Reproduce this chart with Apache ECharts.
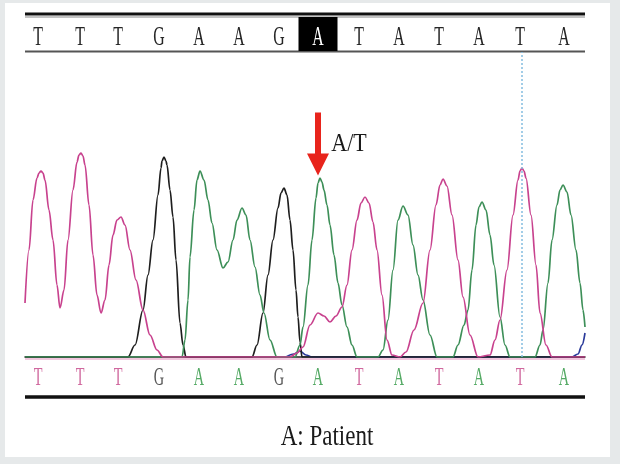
<!DOCTYPE html>
<html>
<head>
<meta charset="utf-8">
<script src="https://cdn.jsdelivr.net/npm/echarts@6/dist/echarts.min.js"></script>
<style>
html,body{margin:0;padding:0;background:#e6e9ea;}
#c{width:620px;height:464px;}
</style>
</head>
<body>
<div id="c"></div>
<script>
// base-call positions (scan units) and called bases
var baseX = [38, 80, 118, 159, 199, 239, 279, 318, 359, 399, 439, 479, 520, 564];
var topCalls = ['T','T','T','G','A','A','G','A','T','A','T','A','T','A'];
var bottomCalls = ['T','T','T','G','A','A','G','A','T','A','T','A','T','A'];
var highlightIndex = 7;
var mutationLabel = 'A/T';
var mutationX = 318;
var markerX = 522;
var caption = 'A: Patient';

// chromatogram traces [scan, intensity]
var traceT = [[25,54],[29,107],[33,157],[37,179],[39,184],[41,186],[43,184],[45,177],[49,147],[53,117],[57,72],[60,49],[64,67],[68,117],[73,167],[77,195],[79,202],[81,204],[83,201],[85,192],[89,152],[93,102],[97,62],[101,44],[105,57],[109,92],[113,122],[117,137],[121,140],[125,132],[130,107],[136,77],[143,47],[150,22],[157,7],[163,0],[290,0],[297,4],[303,10],[310,32],[318,44],[324,41],[330,35],[336,41],[342,50],[347,72],[352,107],[357,137],[361,154],[365,160],[369,154],[373,135],[377,107],[382,62],[387,17],[392,2],[400,0],[406,5],[414,27],[423,54],[430,107],[436,152],[440,172],[443,178],[447,171],[452,142],[458,97],[463,60],[470,22],[478,0],[490,2],[495,17],[500,37],[507,87],[513,142],[518,177],[520,186],[522,189],[524,186],[526,179],[531,142],[536,92],[540,44],[546,12],[552,0],[585,0]];
var traceG = [[25,0],[128,0],[135,12],[143,47],[148,82],[153,117],[158,162],[161,189],[162,196],[164,200],[166,196],[167,192],[170,167],[173,140],[176,97],[180,34],[183,12],[186,0],[252,0],[257,12],[263,44],[268,82],[273,117],[278,149],[281,164],[284,169],[287,162],[290,137],[293,107],[296,67],[298,40],[300,15],[302,0],[585,0]];
var traceA = [[25,0],[182,0],[185,17],[188,57],[190,100],[194,147],[197,177],[200,186],[204,177],[208,157],[212,134],[217,107],[223,89],[228,95],[233,117],[237,137],[242,149],[246,142],[250,117],[255,90],[260,62],[264,44],[270,17],[277,0],[295,0],[300,12],[303,30],[308,72],[312,117],[316,159],[318,174],[320,179],[322,175],[324,167],[327,152],[330,132],[334,102],[338,74],[342,52],[347,30],[352,12],[357,0],[378,0],[383,7],[388,37],[393,87],[398,137],[403,151],[408,142],[413,112],[418,82],[423,57],[430,22],[437,0],[453,0],[458,12],[464,32],[468,47],[472,87],[476,132],[479,150],[482,155],[486,147],[490,122],[494,92],[500,40],[505,12],[510,0],[535,0],[540,12],[543,27],[548,74],[552,117],[557,152],[560,167],[563,172],[567,165],[571,142],[576,107],[580,74],[583,47],[585,30]];
var traceC = [[286,0],[294,3],[300,6],[306,2],[312,0],[572,0],[578,3],[582,12],[585,24]];

var baseColors = {T:'#c8428e', G:'#1e1e1e', A:'#3d8f58', C:'#2a3a9a'};
var letterColors = {T:'#d0689e', G:'#555555', A:'#55aa65'};

var chart = echarts.init(document.getElementById('c'), null, {renderer:'canvas'});

function traceSeries(data, color, extra){
  var s = {type:'line', xAxisIndex:0, yAxisIndex:0, data:data, showSymbol:false, symbol:'none',
    smooth:0.35, smoothMonotone:'x', lineStyle:{color:color, width:1.7}, z:3, silent:true, animation:false};
  if (extra) for (var k in extra) s[k]=extra[k];
  return s;
}

function letterSeries(gridIdx, calls, colorFn, fontSize, sx, sy, dy){
  return {
    type:'custom', xAxisIndex:gridIdx, yAxisIndex:gridIdx, silent:true, z:5, animation:false,
    data: baseX.map(function(x,i){ return [x, 0.5, i]; }),
    renderItem:function(params, api){
      var i = api.value(2);
      var p = api.coord([api.value(0), api.value(1)]);
      return {type:'text', x:p[0], y:p[1]+dy, scaleX:sx, scaleY:sy,
        style:{text:calls[i], fill:colorFn(i), fontFamily:'Liberation Serif', fontSize:fontSize, align:'center', verticalAlign:'middle'}};
    }
  };
}

var option = {
  backgroundColor:'#e6e9ea',
  animation:false,
  grid:[
    {left:25, right:35, top:52, bottom:107},
    {left:25, right:35, top:17, height:34},
    {left:25, right:35, top:363, height:34}
  ],
  xAxis:[
    {gridIndex:0, type:'value', min:25, max:585, axisLine:{show:true, onZero:false, lineStyle:{color:'#222', width:1.5}}, axisTick:{show:false}, axisLabel:{show:false}, splitLine:{show:false}},
    {gridIndex:1, type:'value', min:25, max:585, show:false},
    {gridIndex:2, type:'value', min:25, max:585, show:false}
  ],
  yAxis:[
    {gridIndex:0, type:'value', min:0, max:305, show:false},
    {gridIndex:1, type:'value', min:0, max:1, show:false},
    {gridIndex:2, type:'value', min:0, max:1, show:false}
  ],
  graphic:[
    {type:'rect', shape:{x:5, y:3, width:605, height:454}, style:{fill:'#ffffff'}, z:-10, silent:true},
    {type:'line', shape:{x1:25, y1:14, x2:585, y2:14}, style:{stroke:'#111', lineWidth:3}, silent:true},
    {type:'line', shape:{x1:25, y1:17, x2:585, y2:17}, style:{stroke:'#888', lineWidth:1.2}, silent:true},
    {type:'line', shape:{x1:25, y1:51.5, x2:585, y2:51.5}, style:{stroke:'#555', lineWidth:2}, silent:true},
    {type:'line', shape:{x1:25, y1:359, x2:585, y2:359}, style:{stroke:'#e58fbe', lineWidth:1.2}, silent:true},
    {type:'line', shape:{x1:25, y1:397, x2:585, y2:397}, style:{stroke:'#111', lineWidth:3.5}, silent:true},
    {type:'text', x:349, y:145, scaleY:1.1, style:{text:mutationLabel, fontFamily:'Liberation Serif', fontSize:22, fill:'#1a1a1a', align:'center', verticalAlign:'middle'}, silent:true},
    {type:'text', x:327, y:437, scaleX:0.92, scaleY:1.2, style:{text:caption, fontFamily:'Liberation Serif', fontSize:25, fill:'#1a1a1a', align:'center', verticalAlign:'middle'}, silent:true}
  ],
  series:[
    traceSeries(traceC, baseColors.C),
    traceSeries(traceG, baseColors.G),
    traceSeries(traceA, baseColors.A, {
      markPoint:{silent:true, animation:false, data:[{
        coord:[mutationX, 213], symbol:'path://M8,0 L14,0 L14,41 L22,41 L11,63 L0,41 L8,41 Z',
        symbolSize:[22,63], itemStyle:{color:'#e8241c'}, label:{show:false}
      }]}
    }),
    traceSeries(traceT, baseColors.T, {
      markLine:{silent:true, symbol:'none', animation:false, label:{show:false},
        lineStyle:{color:'#84bde0', type:[2,2], width:1.5},
        data:[{xAxis:markerX}]}
    }),
    {type:'scatter', xAxisIndex:1, yAxisIndex:1, symbol:'rect', symbolSize:[39,34], itemStyle:{color:'#000', opacity:1},
      data:[[baseX[highlightIndex],0.5]], z:2, silent:true},
    letterSeries(1, topCalls, function(i){ return i===highlightIndex ? '#ffffff' : '#262626'; }, 22, 0.72, 1.2, 4),
    letterSeries(2, bottomCalls, function(i){ return letterColors[bottomCalls[i]]; }, 21, 0.68, 1.2, -2)
  ]
};
chart.setOption(option);
</script>
</body>
</html>
